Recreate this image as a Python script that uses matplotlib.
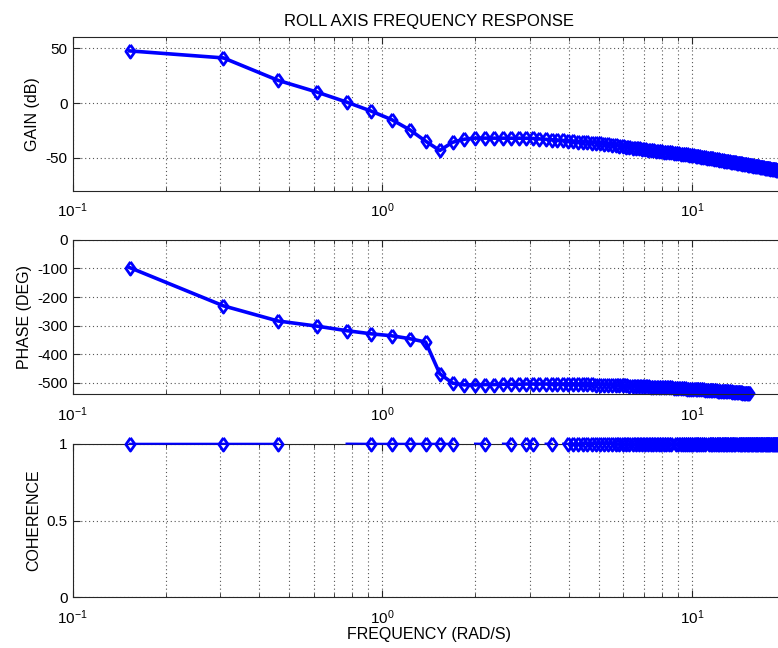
import matplotlib.pyplot as plt
import numpy as np

# frequency points (rad/s)
freq = np.array([
    0.153, 0.307, 0.460, 0.614, 0.767, 0.920, 1.074, 1.227, 1.381, 1.534,
    1.687, 1.841, 1.994, 2.148, 2.301, 2.454, 2.608, 2.761, 2.915, 3.068,
    3.22, 3.37, 3.53, 3.68, 3.84, 3.99, 4.14, 4.30, 4.45, 4.60,
    4.76, 4.91, 5.06, 5.22, 5.37, 5.52, 5.68, 5.83, 5.98, 6.14,
    6.29, 6.44, 6.60, 6.75, 6.90, 7.06, 7.21, 7.36, 7.52, 7.67,
    7.82, 7.98, 8.13, 8.28, 8.44, 8.59, 8.74, 8.90, 9.05, 9.20,
    9.36, 9.51, 9.66, 9.82, 9.97, 10.12, 10.28, 10.43, 10.58, 10.74,
    10.89, 11.04, 11.20, 11.35, 11.51, 11.66, 11.81, 11.97, 12.12, 12.27,
    12.43, 12.58, 12.73, 12.89, 13.04, 13.19, 13.35, 13.50, 13.65, 13.81,
    13.96, 14.11, 14.27, 14.42, 14.57, 14.73, 14.88, 15.03, 15.19, 15.34,
    15.49, 15.65, 15.80, 15.95, 16.11, 16.26, 16.41, 16.57, 16.72, 16.87,
    17.03, 17.18, 17.33, 17.49, 17.64, 17.79, 17.95, 18.10, 18.25, 18.41,
    18.56, 18.71, 18.87, 19.02, 19.18, 19.33, 19.48, 19.64, 19.79, 19.94])

# gain (dB)
gain_db = np.array([
    47.6, 41.2, 20.8, 10.1, 0.9, -7.3, -15.2, -24.4, -34.8, -43.3,
    -35.8, -33.0, -32.0, -32.0, -31.9, -31.9, -32.0, -32.0, -32.1, -32.3,
    -32.7, -33.1, -33.4, -33.8, -34.1, -34.4, -34.8, -35.1, -35.4, -35.7,
    -36.0, -36.3, -36.8, -37.3, -37.8, -38.2, -38.6, -39.1, -39.5, -39.9,
    -40.3, -40.7, -41.1, -41.4, -41.8, -42.1, -42.5, -42.8, -43.1, -43.4,
    -43.7, -44.0, -44.3, -44.6, -44.9, -45.1, -45.4, -45.7, -45.9, -46.2,
    -46.4, -46.7, -46.9, -47.2, -47.4, -47.7, -48.0, -48.3, -48.6, -48.9,
    -49.2, -49.5, -49.8, -50.1, -50.4, -50.6, -50.9, -51.2, -51.5, -51.7,
    -52.0, -52.2, -52.5, -52.8, -53.0, -53.2, -53.5, -53.7, -54.0, -54.2,
    -54.4, -54.7, -54.9, -55.1, -55.4, -55.6, -55.8, -56.0, -56.2, -56.4,
    -56.7, -56.9, -57.1, -57.3, -57.5, -57.7, -57.9, -58.1, -58.3, -58.5,
    -58.7, -58.9, -59.1, -59.2, -59.4, -59.6, -59.8, -60.0, -60.2, -60.3,
    -60.5, -60.7, -60.9, -61.0, -61.2, -61.4, -61.5, -61.7, -61.9, -62.0])

# phase (deg), only the first 100 frequencies
phase_deg = np.array([
    -97, -231, -284, -302, -318, -329, -336, -346, -358, -469,
    -502, -508, -508, -507, -507, -506, -506, -506, -505, -505,
    -505, -505, -505, -505, -505, -505, -505, -506, -506, -506,
    -506, -507, -507, -508, -508, -509, -509, -509, -510, -510,
    -511, -511, -512, -512, -513, -513, -513, -514, -514, -515,
    -515, -516, -516, -517, -517, -517, -518, -518, -519, -519,
    -520, -520, -521, -521, -521, -522, -522, -523, -523, -524,
    -524, -525, -525, -525, -526, -526, -527, -527, -528, -528,
    -529, -529, -529, -530, -530, -531, -531, -532, -532, -533,
    -533, -533, -534, -534, -535, -535, -536, -536, -537, -537])

nan = np.nan
coherence = np.array([
    1, 1, 1, nan, 1.001, 1, 1, 1, 1, 1,
    1, nan, 1.001, 1, nan, 1.001, 1, nan, 1, 1,
    nan, 1.001, 1, nan, 1.001, 1, 1, 1, 1, 1,
    1, 1, 1, 1, 1, 1, 1, 1, 1, 1,
    1, 1, 1, 1, 1, 1, 1, 1, 1, 1,
    1, 1, 1, 1, 1, 1, 1.001, 1, 1, 1,
    1, 1, 1, 1, 1, 1, 1, 1, 1, 1,
    1, 1, 1.001, 1, 1, 1, 1, 1, 1, 1,
    1, 1, 1, 1, 1, 1, 1, 1, 1, 1,
    1.001, 1, 1, 1, 1, 1, 1, 1, 1, 1,
    1, 1, 1, 1, 1, 1, 1, 1, 1, 1,
    1, 1, 1, 1, 1, 1, 1, 1, 1, 1,
    1, 1, 1, 1, 1, 1, 1, 1, 1, 1])

plt.rcParams['font.family'] = ['Liberation Sans', 'DejaVu Sans']
plt.rcParams['mathtext.default'] = 'regular'
plt.rcParams['axes.unicode_minus'] = False

fig = plt.figure(figsize=(7.78, 6.48), dpi=100)

# axes run slightly past the right edge, like the cropped original
ax_gain = fig.add_axes([0.0934, 0.7057, 0.9156, 0.2367])
ax_phase = fig.add_axes([0.0934, 0.3920, 0.9156, 0.2377])
ax_coh = fig.add_axes([0.0934, 0.0782, 0.9156, 0.2370])

blue = '#0000ff'
# a diamond a bit wider than matplotlib's thin one
diamond = [(0, 1), (0.7, 0), (0, -1), (-0.7, 0), (0, 1)]
mk = dict(marker=diamond, markersize=9.5, markeredgewidth=2.0, markerfacecolor='none')


def style(ax, ylim, yticks):
    ax.set_xscale('log')
    ax.set_xlim(0.1, 20)
    ax.set_ylim(*ylim)
    ax.set_yticks(yticks)
    ax.xaxis.set_minor_formatter(plt.NullFormatter())
    ax.tick_params(which='both', direction='in', top=True, right=True,
                   labelsize=11, color='#262626')
    ax.tick_params(which='major', length=5)
    ax.tick_params(which='minor', length=3)
    ax.tick_params(axis='x', which='major', pad=8)
    ax.grid(True, which='major', linestyle=(0, (1, 2.5)), color='#555555', linewidth=0.8)
    ax.grid(True, which='minor', axis='x', linestyle=(0, (1, 2.5)), color='#555555',
            linewidth=0.8)
    for s in ax.spines.values():
        s.set_color('#262626')
        s.set_linewidth(0.8)


ax_gain.plot(freq, gain_db, color=blue, linewidth=2.6, clip_on=False, **mk)
style(ax_gain, (-80, 60), [-50, 0, 50])
ax_gain.set_ylabel('GAIN (dB)', fontsize=11.5)
ax_gain.set_title('ROLL AXIS FREQUENCY RESPONSE', fontsize=12, pad=8)

ax_phase.plot(freq[:len(phase_deg)], phase_deg, color=blue, linewidth=2.6,
              clip_on=False, **mk)
style(ax_phase, (-540, 0), [-500, -400, -300, -200, -100, 0])
ax_phase.set_ylabel('PHASE (DEG)', fontsize=11.5)

# line through every point, markers only where the coherence is within range
ax_coh.plot(freq, coherence, color=blue, linewidth=1.5, clip_on=False, zorder=3)
ok = coherence <= 1
ax_coh.plot(freq[ok], coherence[ok], linestyle='none', color=blue,
            clip_on=False, zorder=3, **mk)
style(ax_coh, (0, 1), [0, 0.5, 1])
ax_coh.set_yticklabels(['0', '0.5', '1'])
ax_coh.set_ylabel('COHERENCE', fontsize=11.5)
ax_coh.set_xlabel('FREQUENCY (RAD/S)', fontsize=11.5, labelpad=0)

fig.savefig('out.png', dpi=100)
